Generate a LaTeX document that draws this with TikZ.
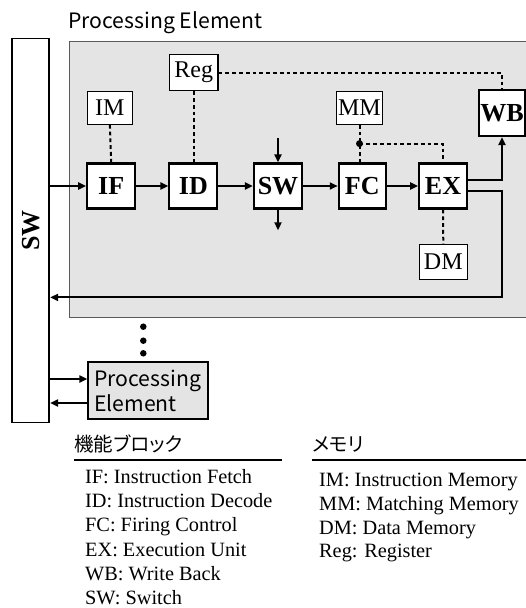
\documentclass[tikz,border=0pt]{standalone}
\usepackage{fontspec}
\setmainfont{Liberation Serif}
\newfontfamily\jpsans{Noto Sans CJK JP}[CharacterWidth=AlternateProportional]
\usetikzlibrary{arrows.meta}
\definecolor{pegray}{RGB}{228,228,228}
\definecolor{peedge}{RGB}{90,90,90}
\tikzset{
  x=1pt, y=-1pt,
  block/.style={draw, line width=2.1pt, fill=white, inner sep=0pt,
    minimum width=48pt, minimum height=45pt,
    font=\fontsize{26}{28}\selectfont\bfseries},
  memory/.style={draw, line width=1.3pt, fill=white, inner sep=0pt,
    minimum height=32.5pt, font=\fontsize{24}{26}\selectfont},
  arr/.style={line width=2pt, -{Triangle[length=8pt,width=7pt]}},
  link/.style={line width=2pt, dash pattern=on 3.8pt off 3pt},
  legend/.style={anchor=base west, inner sep=0pt, font=\fontsize{20.3}{22}\selectfont},
  jphead/.style={anchor=west, inner sep=0pt, font=\jpsans\fontsize{19.5}{21}\selectfont},
  sanstext/.style={anchor=base west, inner sep=0pt, font=\jpsans\fontsize{21.2}{23}\selectfont},
  dot/.style={circle, fill, inner sep=0pt, minimum size=6.5pt},
}
\begin{document}
\begin{tikzpicture}
\useasboundingbox (0,0) rectangle (526,608);

% processing element frame (open to the right)
\fill[pegray] (69.4,41.3) rectangle (526,317.5);
\draw[peedge, line width=1.3pt] (526,41.3) -- (69.4,41.3) -- (69.4,317.5) -- (526,317.5);
\node[sanstext] (petitle) at (68,28.3) {Processing Element};

% network switch bar
\node[draw, line width=1.7pt, fill=white, minimum width=37.2pt, minimum height=384pt,
  inner sep=0pt] (swbar) at (30.7,230.6) {};
\node[rotate=90, inner sep=0pt, font=\fontsize{26}{28}\selectfont\bfseries]
  (swlabel) at (31,230.6) {SW};

% pipeline stages
\node[block] (IF) at (111.2,186) {IF};
\node[block] (ID) at (193.4,186) {ID};
\node[block] (SW) at (278,186) {SW};
\node[block, minimum width=47pt] (FC) at (362.3,186) {FC};
\node[block, minimum width=47.7pt] (EX) at (443,186) {EX};
\node[block, minimum width=46pt, minimum height=46pt] (WB) at (502,113) {WB};

% memories
\node[memory, minimum width=45pt] (IM) at (109.9,107.9) {IM};
\node[memory, minimum width=46pt] (MM) at (359.5,107.9) {MM};
\node[memory, minimum width=48.6pt, minimum height=36pt] (Reg) at (193.7,72.6) {Reg};
\node[memory, minimum width=48pt, minimum height=34.6pt] (DM) at (443.3,262) {DM};

% data path
\draw[arr] (swbar.east |- IF.west) -- (IF.west);
\draw[arr] (IF.east) -- (ID.west);
\draw[arr] (ID.east) -- (SW.west);
\draw[arr] (SW.east) -- (FC.west);
\draw[arr] (FC.east) -- (EX.west);
\coordinate (swin) at (278,137.9);
\coordinate (swout) at (278,230.3);
\draw[arr] (swin) -- (SW.north);
\draw[arr] (SW.south) -- (swout);
\draw[arr] ([yshift=6.5pt]EX.east) -| (WB.south);
\coordinate (retcorner) at (502,297.4);
\draw[arr] ([yshift=-4.5pt]EX.east) -| (retcorner) -- (swbar.east |- retcorner);

% memory accesses
\draw[link] (IM.south) -- (IF.north);
\draw[link] (Reg.south) -- (Reg.south |- ID.north);
\draw[link] (Reg.east) -| (WB.north);
\coordinate (mmjoin) at (359.5,143.6);
\draw[link] (MM.south) -- (MM.south |- FC.north);
\draw[link] (mmjoin) -| (EX.north);
\node[dot, minimum size=7pt] (mmdot) at (mmjoin) {};
\draw[link] (EX.south) -- (DM.north);

% further processing elements
\node[dot] (d1) at (143.3,326.7) {};
\node[dot] (d2) at (143.3,340.7) {};
\node[dot] (d3) at (143.3,353.3) {};
\node[draw, line width=1.3pt, fill=pegray, minimum width=120pt, minimum height=57pt,
  inner sep=0pt] (pe2) at (148,390.5) {};
\node[sanstext] (pe2a) at (94,386) {Processing};
\node[sanstext] (pe2b) at (94,411) {Element};
\coordinate (pein) at ([yshift=11.5pt]pe2.west);
\coordinate (peout) at ([yshift=-12.5pt]pe2.west);
\draw[arr] (swbar.east |- pein) -- (pein);
\draw[arr] (peout) -- (swbar.east |- peout);

% legend: functional blocks
\node[jphead] (hblk) at (74,444) {機能ブロック};
\draw[line width=1.3pt] (74,460) -- (282,460);
\node[legend] (l1) at (85,483.3) {IF: Instruction Fetch};
\node[legend] (l2) at (85,507.6) {ID: Instruction Decode};
\node[legend] (l3) at (85,531.9) {FC: Firing Control};
\node[legend] (l4) at (85,556.2) {EX: Execution Unit};
\node[legend] (l5) at (85,580.5) {WB: Write Back};
\node[legend] (l6) at (85,604.8) {SW: Switch};

% legend: memories
\node[jphead] (hmem) at (312,444) {メモリ};
\draw[line width=1.3pt] (312,460) -- (526,460);
\node[legend] (m1) at (319,486.7) {IM: Instruction Memory};
\node[legend] (m2) at (319,510.5) {MM: Matching Memory};
\node[legend] (m3) at (319,534.1) {DM: Data Memory};
\node[legend] (m4) at (319,557.6) {Reg: Register};
\end{tikzpicture}
\end{document}
